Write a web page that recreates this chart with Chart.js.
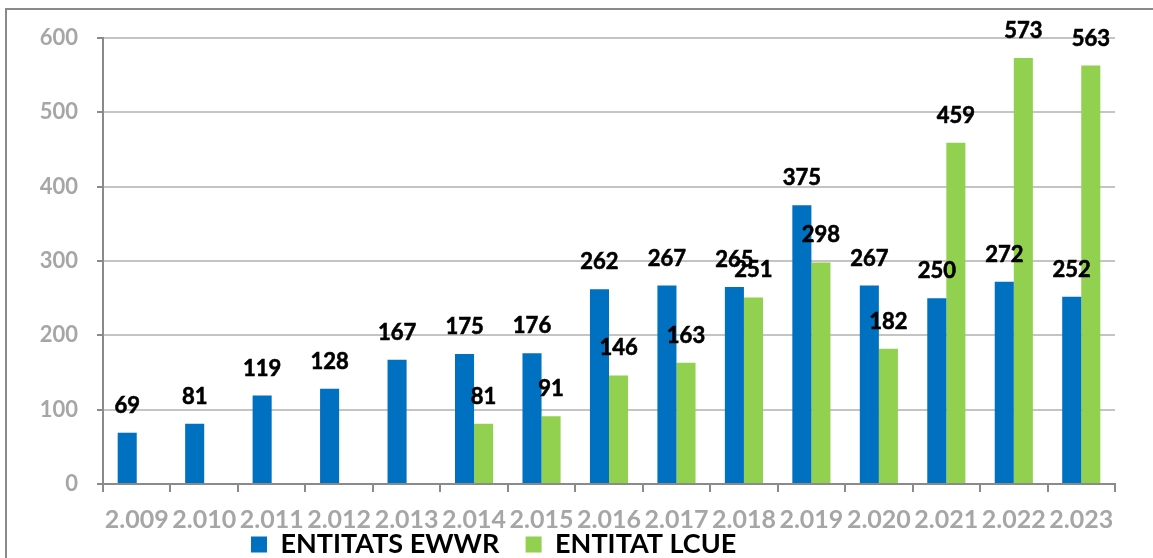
<!DOCTYPE html>
<html>
<head>
<meta charset="utf-8">
<script src="https://cdn.jsdelivr.net/npm/chart.js@4.4.1/dist/chart.umd.min.js"></script>
<style>
  html, body { margin: 0; padding: 0; background: #ffffff; overflow: hidden; }
  #wrap { position: relative; width: 1153px; height: 558px; }
  #frame { position: absolute; left: 5px; top: 8px; width: 2000px; height: 1000px;
           border: 2px solid #8a8a8a; pointer-events: none; }
</style>
</head>
<body>
<div id="wrap">
  <canvas id="c" width="1153" height="558"></canvas>
  <div id="frame"></div>
</div>
<script>
const categories = ["2.009","2.010","2.011","2.012","2.013","2.014","2.015","2.016","2.017","2.018","2.019","2.020","2.021","2.022","2.023"];
const ewwrValues = [69, 81, 119, 128, 167, 175, 176, 262, 267, 265, 375, 267, 250, 272, 252];
const lcueValues = [null, null, null, null, null, 81, 91, 146, 163, 251, 298, 182, 459, 573, 563];
const seriesNames = ["ENTITATS EWWR", "ENTITAT LCUE"];
const yTicks = [0, 100, 200, 300, 400, 500, 600];

const FONT = "Lato, 'Open Sans', 'DejaVu Sans', sans-serif";
const LEG_SIZE = 27;
const LEG_BOX = 16;

// measure legend texts so the legend sits where the reference has it
const mctx = document.createElement('canvas').getContext('2d');
mctx.font = "bold " + LEG_SIZE + "px " + FONT;
const w1 = mctx.measureText(seriesNames[0]).width;
const w2 = mctx.measureText(seriesNames[1]).width;
const spW = mctx.measureText(' ').width;
const itemExtra = LEG_BOX + LEG_SIZE / 2;
const wantAdvance = 277; // box1 left -> box2 left
const nSp = Math.max(1, Math.round((wantAdvance - itemExtra - w1) / spW));
const pad1 = ' '.repeat(nSp);
const lineW = (itemExtra + w1 + nSp * spW) + (itemExtra + w2);
const legendStartX = 251;
const PLOT_RIGHT = 1115;
const padLeft = 2 * legendStartX - PLOT_RIGHT + lineW;
const PLOT_LEFT = 103;

const valueLabels = {
  id: 'valueLabels',
  afterDatasetsDraw(chart) {
    const ctx = chart.ctx;
    ctx.save();
    ctx.font = "bold 22px " + FONT;
    ctx.fillStyle = "#000000";
    ctx.strokeStyle = "#000000";
    ctx.lineWidth = 0.6;
    ctx.textAlign = "center";
    ctx.textBaseline = "alphabetic";
    chart.data.datasets.forEach((ds, i) => {
      const meta = chart.getDatasetMeta(i);
      meta.data.forEach((el, j) => {
        const v = ds.data[j];
        if (v === null || v === undefined) return;
        ctx.fillText(String(v), el.x, el.y - 20);
        ctx.strokeText(String(v), el.x, el.y - 20);
      });
    });
    ctx.restore();
  }
};

new Chart(document.getElementById('c'), {
  type: 'bar',
  data: {
    labels: categories,
    datasets: [
      { label: seriesNames[0], data: ewwrValues, backgroundColor: '#0070C0', borderWidth: 0,
        categoryPercentage: 0.565, barPercentage: 1.0 },
      { label: seriesNames[1], data: lcueValues, backgroundColor: '#92D050', borderWidth: 0,
        categoryPercentage: 0.565, barPercentage: 1.0 }
    ]
  },
  options: {
    responsive: false,
    animation: false,
    devicePixelRatio: 1,
    layout: { padding: { top: 38, right: 1153 - PLOT_RIGHT, left: padLeft, bottom: 0 } },
    plugins: {
      tooltip: { enabled: false },
      legend: {
        position: 'bottom',
        align: 'center',
        maxHeight: 27,
        labels: {
          boxWidth: LEG_BOX,
          boxHeight: LEG_BOX,
          padding: 0,
          color: '#000000',
          font: { family: FONT, size: LEG_SIZE, weight: 'bold' },
          generateLabels(chart) {
            const items = Chart.defaults.plugins.legend.labels.generateLabels(chart);
            items.forEach((it, i) => { if (i < items.length - 1) it.text = it.text + pad1; });
            return items;
          }
        }
      }
    },
    scales: {
      x: {
        afterFit(scale) { scale.height = 47; },
        grid: { display: true, drawOnChartArea: false, drawTicks: true, tickLength: 8,
                tickColor: '#8a8a8a', tickWidth: 2, lineWidth: 2, color: '#8a8a8a' },
        border: { display: true, color: '#8a8a8a', width: 2 },
        ticks: { color: '#A6A6A6', padding: 13, maxRotation: 0, autoSkip: false,
                 font: { family: FONT, size: 25, weight: 'bold' } }
      },
      y: {
        min: 0, max: 600,
        afterFit(scale) { scale.width = PLOT_LEFT - padLeft; },
        afterBuildTicks(scale) { scale.ticks = yTicks.map(v => ({ value: v })); },
        grid: { color: '#C4C4C4', lineWidth: 2, drawTicks: true, tickLength: 6,
                tickColor: '#8a8a8a', tickWidth: 2 },
        border: { display: true, color: '#8a8a8a', width: 2 },
        ticks: { color: '#A6A6A6', padding: 19,
                 font: { family: FONT, size: 22, weight: 'bold' } }
      }
    }
  },
  plugins: [valueLabels]
});
</script>
</body>
</html>
